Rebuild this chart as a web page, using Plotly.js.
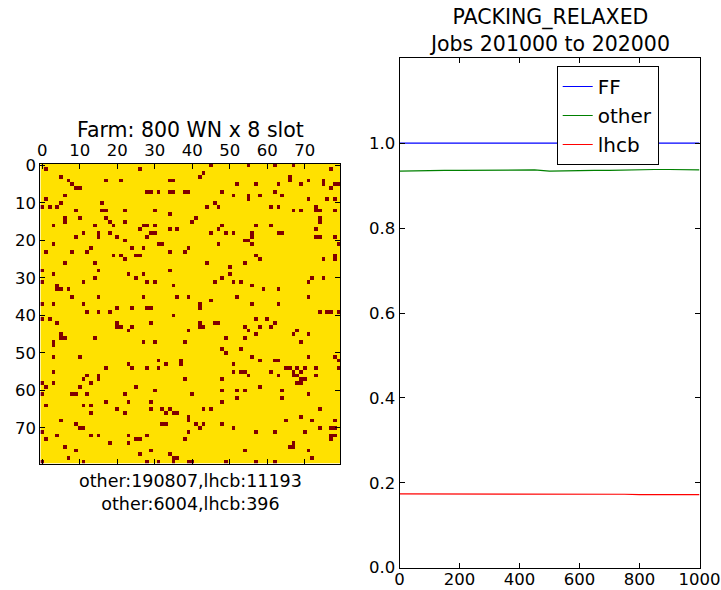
<!DOCTYPE html>
<html>
<head>
<meta charset="utf-8">
<script src="https://cdn.plot.ly/plotly-3.0.1.min.js"></script>
<style>html,body{margin:0;padding:0;background:#fff;}#chart{width:721px;height:590px;}</style>
</head>
<body>
<div id="chart"></div>
<script>
// ---- Farm map: 80 x 80 slots, cells occupied by lhcb jobs ([row, col]) ----
const gridSize = 80;
const gridTicks = [0, 10, 20, 30, 40, 50, 60, 70];
const lhcbCells = [
[1,1],[3,5],[4,7],[5,8],[6,9],[6,10],[4,17],[4,21],[1,26],[8,6],[9,1],[10,5],[11,0],[11,2],[11,4],[10,16],[12,9],[12,16],[12,17],[12,22],[14,6],[15,6],[14,10],[14,17],[15,18],[16,19],[15,22],[16,3],[16,14],[17,26],[18,11],[18,15],[19,15],[18,18],[19,9],[19,20],[20,22],[21,3],[22,13],[22,24],[23,1],[23,8],[23,12],[24,19],[24,21],[24,25],[24,26],[25,22],[26,6],[26,14],[28,0],[28,15],[29,3],[29,23],[31,0],[30,14],[30,25],[31,11],[32,4],[33,4],[33,5],[33,7],[35,8],[35,15],[37,0],[37,3],[37,11],[38,20],[38,24],[39,12],[39,15],[39,18],
[41,0],[41,2],[42,4],[42,20],[43,20],[43,21],[43,24],[44,23],[45,5],[46,5],[46,6],[47,3],[48,3],[46,14],[51,3],[51,10],[54,17],[53,23],[54,24],[55,3],[56,12],[56,15],[57,15],[57,11],[58,13],[58,0],[58,3],[59,1],[59,10],[59,25],[61,0],[61,8],[61,9],[61,12],[61,22],[63,17],[63,23],[64,1],[64,11],[64,13],[65,20],[66,13],[66,22],[68,5],[69,9],[70,10],[70,11],[71,0],[73,1],[72,4],[72,13],[72,15],[72,23],[73,25],[73,26],[74,18],[74,23],[75,6],[76,9],[77,26],[78,7],[79,0],[79,11],
[0,45],[2,43],[3,42],[4,34],[4,35],[5,52],[7,28],[7,29],[7,31],[7,34],[7,35],[7,38],[7,39],[7,48],[8,51],[10,46],[11,47],[11,44],[12,30],[13,34],[14,41],[15,40],[16,27],[16,28],[16,30],[19,28],[18,29],[18,30],[17,34],[17,36],[17,47],[16,48],[18,45],[18,49],[18,51],[21,31],[21,32],[21,47],[22,27],[22,39],[23,34],[23,38],[26,44],[27,50],[28,34],[29,27],[29,50],[30,48],[31,28],[31,30],[31,46],[31,51],[31,53],[32,35],[35,27],[35,36],[35,39],[35,52],[36,45],[37,42],[38,42],[38,28],[38,29],
[40,35],[42,29],[42,42],[43,42],[43,43],[42,46],[42,47],[44,39],[46,49],[47,27],[47,30],[47,38],[49,48],[50,49],[49,53],[52,31],[53,33],[52,37],[53,37],[54,28],[54,31],[53,51],[55,51],[55,53],[57,38],[57,48],[60,30],[60,48],[60,52],[61,40],[62,52],[63,29],[63,48],[65,29],[65,32],[66,33],[65,34],[66,35],[66,36],[65,43],[65,45],[67,39],[68,39],[69,32],[69,33],[69,41],[69,43],[70,42],[69,48],[70,51],[71,39],[72,28],[73,38],[76,29],[77,34],[78,35],[78,36],[79,35],[79,28],[79,31],[79,39],[79,40],[79,49],
[0,55],[0,62],[0,67],[1,77],[3,66],[4,66],[4,71],[4,75],[5,75],[5,57],[5,63],[5,69],[5,78],[5,79],[6,77],[7,62],[8,55],[9,55],[8,58],[8,64],[9,71],[9,76],[9,78],[11,61],[11,63],[12,67],[12,69],[11,73],[12,73],[12,74],[12,78],[14,74],[15,74],[16,57],[16,61],[17,73],[18,63],[18,64],[18,56],[19,56],[20,54],[20,55],[21,56],[19,73],[19,74],[19,78],[21,79],[24,57],[25,58],[25,75],[24,78],[25,78],[26,54],[32,56],[33,59],[33,63],[30,72],[31,71],[30,75],[35,71],[37,56],[37,63],[39,74],[39,76],[39,77],[39,79],
[41,57],[41,60],[42,62],[43,54],[43,58],[43,61],[44,55],[44,68],[45,57],[45,67],[45,71],[46,54],[47,69],[51,56],[52,58],[52,62],[52,63],[51,71],[51,78],[52,79],[54,65],[54,66],[54,68],[54,70],[54,73],[54,79],[55,67],[56,67],[56,68],[55,69],[57,69],[57,70],[58,68],[58,69],[55,53],[55,54],[56,55],[55,61],[56,63],[56,73],[59,58],[60,54],[60,64],[61,71],[62,64],[65,74],[67,69],[68,65],[68,72],[68,78],[70,74],[70,77],[70,78],[72,77],[72,78],[73,77],[71,57],[71,62],[71,70],[75,66],[74,67],[75,67],[76,54],[76,71],[78,72],[79,57],[79,62]
];
const farmTitle = "Farm: 800 WN x 8 slot";
const farmLabel = "other:190807,lhcb:11193<br>other:6004,lhcb:396";

// ---- Packing efficiency series ----
const jobsX  = [0, 50, 100, 150, 200, 250, 300, 350, 400, 450, 500, 550, 600, 650, 700, 750, 800, 850, 900, 950, 1000];
const ffVals = [1.0, 1.0, 1.0, 1.0, 1.0, 1.0, 1.0, 1.0, 1.0, 1.0, 1.0, 1.0, 1.0, 1.0, 1.0, 1.0, 1.0, 1.0, 1.0, 1.0, 1.0];
const otherVals = [0.934, 0.935, 0.936, 0.936, 0.936, 0.936, 0.936, 0.936, 0.936, 0.937, 0.934, 0.935, 0.936, 0.936, 0.936, 0.937, 0.937, 0.938, 0.938, 0.937, 0.937];
const lhcbVals  = [0.174, 0.174, 0.174, 0.173, 0.173, 0.173, 0.173, 0.173, 0.174, 0.173, 0.173, 0.173, 0.173, 0.173, 0.173, 0.173, 0.172, 0.172, 0.172, 0.172, 0.172];
const yTicks = [0, 0.2, 0.4, 0.6, 0.8, 1.0];
const xTicks = [0, 200, 400, 600, 800, 1000];
const plotTitle = "PACKING_RELAXED<br>Jobs 201000 to 202000";

// build z matrix
const z = [];
for (let r = 0; r < gridSize; r++) { z.push(new Array(gridSize).fill(0)); }
lhcbCells.forEach(([r, c]) => { z[r][c] = 1; });

const W = 721, H = 590;
const font = 'DejaVu Sans, sans-serif';
const heat = {
  type: 'heatmap', z: z, xaxis: 'x', yaxis: 'y',
  colorscale: [[0, '#FFE100'], [1, '#800000']], zmin: 0, zmax: 1,
  showscale: false, hoverinfo: 'skip', showlegend: false
};
const tFF = {x: jobsX, y: ffVals, name: 'FF', mode: 'lines', line: {color: '#0000FF', width: 1.2}, xaxis: 'x2', yaxis: 'y2'};
const tOther = {x: jobsX, y: otherVals, name: 'other', mode: 'lines', line: {color: '#008000', width: 1.2}, xaxis: 'x2', yaxis: 'y2'};
const tLhcb = {x: jobsX, y: lhcbVals, name: 'lhcb', mode: 'lines', line: {color: '#FF0000', width: 1.2}, xaxis: 'x2', yaxis: 'y2'};

const axBase = {
  showgrid: false, zeroline: false, showline: true, linecolor: '#000', linewidth: 1,
  mirror: 'ticks', ticks: 'inside', ticklen: 5, tickcolor: '#000',
  tickfont: {family: font, size: 16.5, color: '#000'}
};

const layout = {
  width: W, height: H, margin: {l: 0, r: 0, t: 0, b: 0},
  paper_bgcolor: '#fff', plot_bgcolor: '#fff',
  font: {family: font, color: '#000'},
  showlegend: true,
  xaxis: Object.assign({}, axBase, {domain: [40.4 / W, 340.4 / W], range: [-0.5, gridSize - 0.5], side: 'top', tickvals: gridTicks, anchor: 'y'}),
  yaxis: Object.assign({}, axBase, {domain: [1 - 463.5 / H, 1 - 163.5 / H], range: [gridSize - 0.5, -0.5], tickvals: gridTicks, anchor: 'x'}),
  xaxis2: Object.assign({}, axBase, {domain: [399.5 / W, 699.5 / W], range: [0, 1000], tickvals: xTicks, anchor: 'y2', ticklabelstandoff: -4}),
  yaxis2: Object.assign({}, axBase, {domain: [1 - 567.7 / H, 1 - 58.3 / H], range: [0, 1.2], tickvals: yTicks, tickformat: '.1f', anchor: 'x2'}),
  legend: {x: 556.7 / W, y: 1 - 66 / H, xanchor: 'left', yanchor: 'top', bgcolor: '#fff', bordercolor: '#000', borderwidth: 1,
           font: {family: font, size: 20, color: '#000'}},
  annotations: [
    {text: plotTitle, xref: 'paper', yref: 'paper', x: 549.5 / W, y: 1 - 31 / H, xanchor: 'center', yanchor: 'middle', showarrow: false,
     font: {family: font, size: 20.5, color: '#000'}},
    {text: farmTitle, xref: 'paper', yref: 'paper', x: 190.4 / W, y: 1 - 144 / H, xanchor: 'center', yanchor: 'bottom', showarrow: false,
     font: {family: font, size: 20.5, color: '#000'}},
    {text: farmLabel, xref: 'paper', yref: 'paper', x: 190.4 / W, y: 1 - 469 / H, xanchor: 'center', yanchor: 'top', showarrow: false,
     font: {family: font, size: 17.5, color: '#000'}}
  ]
};

Plotly.newPlot('chart', [heat, tFF, tOther, tLhcb], layout, {displayModeBar: false, staticPlot: true});
</script>
</body>
</html>
